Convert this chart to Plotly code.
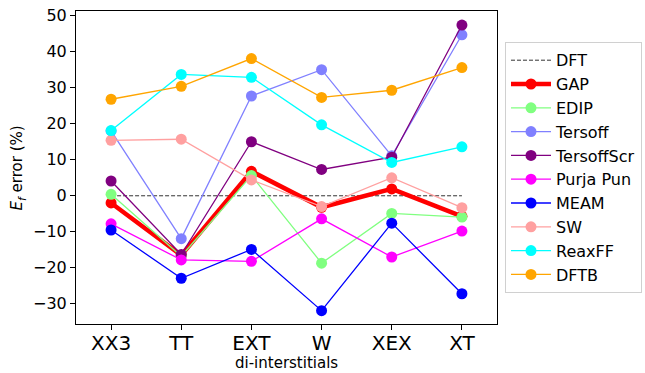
import plotly.graph_objects as go

categories = ["XX3", "TT", "EXT", "W", "XEX", "XT"]
dft = [0, 0, 0, 0, 0, 0]
gap = [-2.0, -16.5, 6.8, -3.2, 1.9, -5.7]
edip = [0.4, -16.8, 5.6, -18.7, -4.9, -5.9]
tersoff = [18.0, -11.9, 27.7, 35.0, 11.1, 44.7]
tersoffscr = [4.1, -16.3, 15.0, 7.3, 10.7, 47.4]
purja_pun = [-7.8, -17.8, -18.2, -6.4, -17.0, -9.8]
meam = [-9.5, -22.9, -14.9, -31.9, -7.6, -27.2]
sw = [15.4, 15.7, 4.4, -3.0, 5.0, -3.3]
reaxff = [18.1, 33.7, 32.9, 19.7, 9.25, 13.6]
dftb = [26.8, 30.4, 38.1, 27.3, 29.3, 35.6]

series = [
    ("EDIP", edip, "#80ff80"),
    ("Tersoff", tersoff, "#8080ff"),
    ("TersoffScr", tersoffscr, "#800080"),
    ("Purja Pun", purja_pun, "#ff00ff"),
    ("MEAM", meam, "#0000ff"),
    ("SW", sw, "#ffa0a0"),
    ("ReaxFF", reaxff, "#00ffff"),
    ("DFTB", dftb, "#ffa500"),
]

x = list(range(len(categories)))
fig = go.Figure()
fig.add_trace(go.Scatter(x=x, y=dft, name="DFT", mode="lines",
                         line=dict(color="#333333", width=1, dash="4px,2px")))
fig.add_trace(go.Scatter(x=x, y=gap, name="GAP", mode="lines+markers",
                         line=dict(color="red", width=4.5),
                         marker=dict(color="red", size=11)))
for name, vals, col in series:
    fig.add_trace(go.Scatter(x=x, y=vals, name=name, mode="lines+markers",
                             line=dict(color=col, width=1.3),
                             marker=dict(color=col, size=11)))

fig.update_layout(
    width=645, height=373,
    margin=dict(l=76, r=148, t=11, b=49, autoexpand=False),
    paper_bgcolor="white", plot_bgcolor="white",
    font=dict(family="DejaVu Sans", color="black"),
    showlegend=True,
    legend=dict(x=1.019, y=0.9, xanchor="left", yanchor="top",
                bordercolor="#d0d0d0", borderwidth=1, itemwidth=40,
                font=dict(size=16), tracegroupgap=0),
    xaxis=dict(range=[-0.5, 5.5], tickmode="array", tickvals=x, ticktext=categories,
               tickfont=dict(size=20), ticks="outside", ticklen=5, tickcolor="black",
               ticklabelstandoff=-4,
               showgrid=False, zeroline=False, showline=True, linecolor="black",
               linewidth=1, mirror=True, automargin=False),
    yaxis=dict(range=[-35.6, 51.3], tickvals=[-30, -20, -10, 0, 10, 20, 30, 40, 50],
               tickfont=dict(size=16), ticks="outside", ticklen=5, tickcolor="black",
               showgrid=False, zeroline=False, showline=True, linecolor="black",
               linewidth=1, mirror=True, automargin=False),
    annotations=[
        dict(text="di-interstitials", xref="paper", yref="paper", x=0.5, y=-0.125,
             xanchor="center", yanchor="middle", showarrow=False, font=dict(size=15)),
        dict(text="<i>E</i><sub><i>f</i></sub> error (%)", xref="paper", yref="paper",
             x=-0.138, y=0.5, xanchor="center", yanchor="middle", textangle=-90,
             showarrow=False, font=dict(size=15)),
    ],
)

fig.write_html("out.html")
